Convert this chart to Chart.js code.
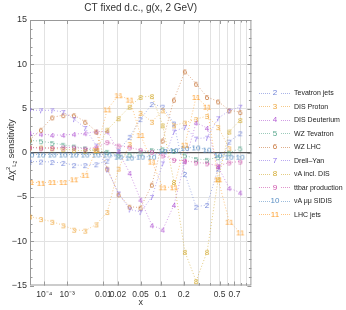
<!DOCTYPE html>
<html>
<head>
<meta charset="utf-8">
<script src="https://cdn.jsdelivr.net/npm/chart.js@4.4.1/dist/chart.umd.min.js"></script>
<style>
  html, body { margin: 0; padding: 0; background: #fff; }
  #wrap { position: relative; width: 346px; height: 310px; }
  #legend { position: absolute; left: 258px; top: 86px; font: 7px "Liberation Sans", Arial, sans-serif; color: #222; }
  .row { position: relative; height: 13.5px; width: 88px; }
  .line { position: absolute; left: 1px; top: 6.5px; width: 31px; border-top: 1px dotted; }
  .num { position: absolute; left: 12px; width: 10px; top: 2px; text-align: center; font-size: 8px; line-height: 9px; background: #fff; }
  .lab { position: absolute; left: 36px; top: 3px; line-height: 8px; white-space: nowrap; }
</style>
</head>
<body>
<div id="wrap">
  <canvas id="chart" width="346" height="310"></canvas>
  <div id="legend"></div>
</div>
<script>
// x grid of the points
const xGrid = [1e-5, 6.4e-5, 2.5e-4, 7.2e-4, 1.7e-3, 3.6e-3, 6.9e-3, 0.0122, 0.0206, 0.033,
               0.05, 0.075, 0.107, 0.151, 0.207, 0.28, 0.37, 0.484, 0.624, 0.794];

const tevatronJets = [-1.0, -1.0, -1.05, -1.15, -1.4, -1.4, -1.3, -0.9, 0.2, 1.8, 3.8, 5.5, 5.2, 3.3, -2.4, -6.1, -5.9, -1.8, 1.25, 2.2];
const disProton    = [-7.2, -7.5, -7.8, -8.2, -8.7, -8.8, -8.1, -6.7, -1.8, 1.0, 4.5, 3.5, 4.8, 3.1, 3.4, 3.8, 4.15, 2.9, 0.5, null];
const disDeuterium = [2.2, 2.1, 2.0, 2.0, 2.1, 2.2, 2.4, 2.4, 0.1, -2.3, -5.3, -8.2, -8.7, -5.9, -1.0, 3.4, 2.8, -1.6, -4.0, -4.5];
const wzTevatron   = [1.4, 1.3, 1.1, 0.9, 0.7, 0.5, 0.2, 0.1, -0.3, -0.2, 0.0, 0.3, 0.4, 0.2, -0.3, -0.7, -0.8, -0.5, 0.0, 0.5];
const wzLHC        = [1.5, 2.6, 4.0, 4.25, 4.25, 3.5, 2.4, -1.8, -4.7, -6.1, -6.2, -3.6, 1.4, 6.0, 9.2, 7.8, 6.3, 5.8, 4.8, 4.6];
const drellYan     = [4.8, 4.8, 4.8, 4.6, 3.8, 2.8, 0.8, -1.9, -4.6, -6.4, -6.7, -5.0, -1.2, 2.4, 2.9, 1.6, 1.7, 3.9, 4.75, 5.2];
const nuAinclDIS   = [0.6, 0.6, 0.5, 0.4, 0.3, 0.2, 0.3, 2.6, 3.9, 5.2, 6.3, 6.4, 3.1, -3.3, -11.2, -14.5, -11.2, -3.0, 2.4, 3.7];
const ttbar        = [0.6, 0.5, 0.55, 0.6, 0.6, 0.45, 0.6, 1.2, 0.8, 0.6, 0.3, 0.1, -0.3, -0.8, -0.9, -1.1, -1.2, -1.5, -1.1, -1.0];
const nuAmumu      = [-0.2, -0.2, -0.2, -0.2, -0.2, -0.2, -0.2, -0.2, -0.45, -0.55, -0.45, -0.45, 0.2, 0.3, 0.55, 0.6, 0.35, -0.25, -0.45, -0.45];
const lhcJets      = [-3.3, -3.4, -3.3, -3.3, -3.0, -2.5, 0.3, 4.9, 6.5, 6.0, 2.0, -1.0, -3.9, -3.9, 0.9, 6.3, 5.2, -3.0, -7.8, -9.0];

const series = [tevatronJets, disProton, disDeuterium, wzTevatron, wzLHC, drellYan, nuAinclDIS, ttbar, nuAmumu, lhcJets];
const ids    = ["2", "3", "4", "5", "6", "7", "8", "9", "10", "11"];
const names  = ["Tevatron jets", "DIS Proton", "DIS Deuterium", "WZ Tevatron", "WZ LHC", "Drell\u2013Yan",
                "\u03bdA incl. DIS", "ttbar production", "\u03bdA \u03bc\u03bc SIDIS", "LHC jets"];
const colors = ["#6f82d8", "#eea53a", "#b35ad4", "#5aa88e", "#c8763a", "#8a6ee8", "#d2aa2e", "#cc4ca8", "#5a8fc4", "#ffa02e"];

const yTicks = [-15, -10, -5, 0, 5, 10, 15];
const xTickVals = [1e-4, 1e-3, 0.01, 0.02, 0.05, 0.1, 0.2, 0.3, 0.4, 0.5, 0.6, 0.7, 0.8, 0.9];
const xTickLabels = ["10\u207b\u2074", "10\u207b\u00b3", "0.01", "0.02", "0.05", "0.1", "0.2", "", "", "0.5", "", "0.7", "", ""];

// the x axis is drawn on x^0.2
const fx = v => Math.pow(v, 0.2);
const FONT = '"Liberation Sans", Arial, sans-serif';

function numberMarker(text, color) {
  const c = document.createElement("canvas");
  c.width = 16; c.height = 10;
  const g = c.getContext("2d");
  g.font = "8px " + FONT;
  g.fillStyle = color;
  g.textAlign = "center";
  g.textBaseline = "middle";
  g.fillText(text, 8, 5.5);
  return c;
}

function fade(hex, a) {
  const n = parseInt(hex.slice(1), 16);
  return "rgba(" + (n >> 16) + "," + ((n >> 8) & 255) + "," + (n & 255) + "," + a + ")";
}

const datasets = series.map((s, i) => ({
  label: names[i],
  data: xGrid.map((x, k) => ({ x: fx(x), y: s[k] })).filter(p => p.y !== null),
  showLine: true,
  borderColor: fade(colors[i], 0.6),
  borderWidth: 1,
  borderDash: [1, 2],
  pointStyle: numberMarker(ids[i], colors[i]),
  pointRadius: 3,
  order: -i
}));

// frame, inward ticks, titles
const decor = {
  id: "decor",
  beforeDatasetsDraw(chart) {
    const { ctx, chartArea: a, scales } = chart;
    ctx.save();
    ctx.strokeStyle = "#999";
    ctx.lineWidth = 1;
    ctx.strokeRect(a.left + 0.5, a.top + 0.5, a.right - a.left - 1, a.bottom - a.top - 1);
    ctx.beginPath();
    for (let v = -15; v <= 15; v++) {
      const y = Math.round(scales.y.getPixelForValue(v)) + 0.5;
      const len = v % 5 === 0 ? 4 : 2.5;
      ctx.moveTo(a.left, y); ctx.lineTo(a.left + len, y);
      ctx.moveTo(a.right, y); ctx.lineTo(a.right - len, y);
    }
    xTickVals.forEach((v, i) => {
      const x = Math.round(scales.x.getPixelForValue(fx(v))) + 0.5;
      const len = xTickLabels[i] ? 4 : 2.5;
      ctx.moveTo(x, a.bottom); ctx.lineTo(x, a.bottom - len);
      ctx.moveTo(x, a.top); ctx.lineTo(x, a.top + len);
    });
    ctx.stroke();
    ctx.restore();
  },
  afterDraw(chart) {
    const { ctx, chartArea: a } = chart;
    const cx = (a.left + a.right) / 2;
    ctx.save();
    ctx.fillStyle = "#333";
    ctx.textAlign = "center";
    ctx.textBaseline = "middle";
    ctx.font = "10px " + FONT;
    ctx.fillText("CT fixed d.c., g(x, 2 GeV)", cx, 8);
    ctx.font = "9px " + FONT;
    ctx.fillText("x", cx, 303);
    // y title: Δχ²_L2 sensitivity
    ctx.translate(12, 150);
    ctx.rotate(-Math.PI / 2);
    ctx.textAlign = "left";
    const parts = [
      ["\u0394\u03c7", 9, 0], ["2", 6, -3.5], ["L", 6, 2.5], ["2", 5, 3.5], [" sensitivity", 9, 0]
    ];
    let w = 0;
    parts.forEach(p => { ctx.font = p[1] + "px " + FONT; w += ctx.measureText(p[0]).width; });
    let x = -w / 2;
    parts.forEach(p => {
      ctx.font = p[1] + "px " + FONT;
      ctx.fillText(p[0], x, p[2]);
      x += ctx.measureText(p[0]).width;
    });
    ctx.restore();
  }
};

new Chart(document.getElementById("chart").getContext("2d"), {
  type: "scatter",
  data: { datasets: datasets },
  options: {
    responsive: false,
    animation: false,
    layout: { padding: { top: 20, right: 94.6, left: 0, bottom: 0 } },
    plugins: { legend: { display: false }, tooltip: { enabled: false } },
    scales: {
      x: {
        type: "linear",
        min: fx(1e-5),
        max: 1,
        afterBuildTicks: s => { s.ticks = xTickVals.map(v => ({ value: fx(v) })); },
        afterFit: s => { s.height = 24.5; },
        border: { display: false },
        grid: { color: "#e2e2e2", lineWidth: 1, drawTicks: false },
        ticks: {
          autoSkip: false, maxRotation: 0, padding: 4, color: "#333",
          font: { size: 8.5, family: FONT },
          callback: (v, i) => xTickLabels[i]
        }
      },
      y: {
        min: -15,
        max: 15,
        afterBuildTicks: s => { s.ticks = yTicks.map(v => ({ value: v })); },
        afterFit: s => { s.width = 30; },
        border: { display: false },
        grid: {
          drawTicks: false,
          color: c => c.tick.value === 0 ? "#555" : (Math.abs(c.tick.value) === 15 ? "rgba(0,0,0,0)" : "#e2e2e2"),
          lineWidth: c => c.tick.value === 0 ? 1.3 : 1
        },
        ticks: {
          padding: 3, color: "#333",
          font: { size: 9, family: FONT },
          callback: v => v < 0 ? "\u2212" + Math.abs(v) : String(v)
        }
      }
    }
  },
  plugins: [decor]
});

// legend
const legend = document.getElementById("legend");
names.forEach((n, i) => {
  const row = document.createElement("div");
  row.className = "row";
  row.innerHTML = '<div class="line" style="border-color:' + fade(colors[i], 0.6) + '"></div>' +
    '<div class="num" style="color:' + colors[i] + '">' + ids[i] + '</div>' +
    '<div class="lab">' + n + '</div>';
  legend.appendChild(row);
});
</script>
</body>
</html>
